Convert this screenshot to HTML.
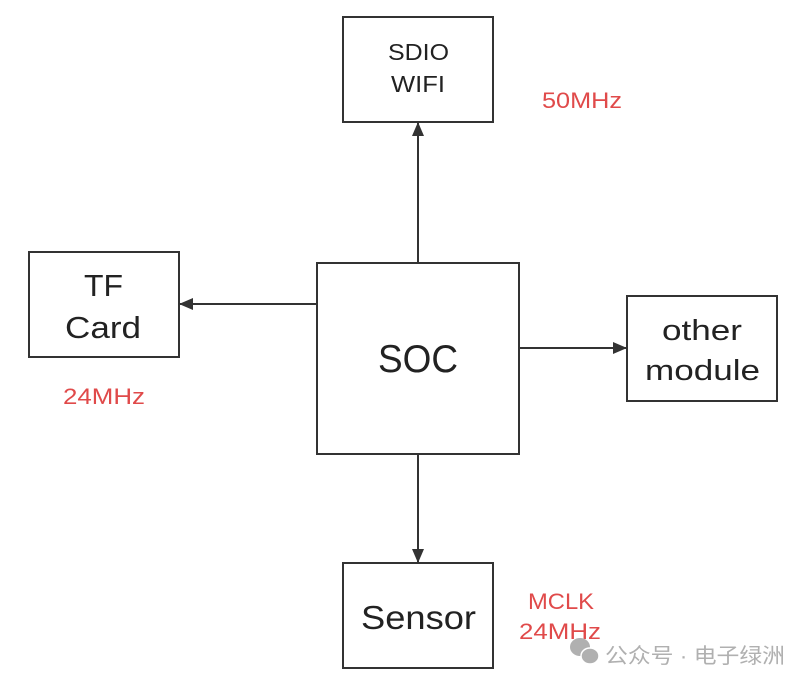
<!DOCTYPE html>
<html><head><meta charset="utf-8"><style>
html,body{margin:0;padding:0;background:#fff;}
svg{display:block;}
text{font-family:"Liberation Sans","Noto Sans CJK SC",sans-serif;}
</style></head><body>
<svg width="811" height="685" viewBox="0 0 811 685" xmlns="http://www.w3.org/2000/svg">
<defs><marker id="a" markerWidth="14" markerHeight="12" refX="13" refY="6" orient="auto" markerUnits="userSpaceOnUse"><path d="M0,0 L14,6 L0,12 z" fill="#333"/></marker></defs>
<g fill="none" stroke="#333" stroke-width="2">
<rect x="343" y="17" width="150" height="105"/>
<rect x="29" y="252" width="150" height="105"/>
<rect x="317" y="263" width="202" height="191"/>
<rect x="627" y="296" width="150" height="105"/>
<rect x="343" y="563" width="150" height="105"/>
<line x1="418" y1="263" x2="418" y2="123" marker-end="url(#a)"/>
<line x1="317" y1="304" x2="180" y2="304" marker-end="url(#a)"/>
<line x1="519" y1="348" x2="626" y2="348" marker-end="url(#a)"/>
<line x1="418" y1="454" x2="418" y2="562" marker-end="url(#a)"/>
</g>
<g fill="#222">
<text x="388" y="60" font-size="23" textLength="61" lengthAdjust="spacingAndGlyphs">SDIO</text>
<text x="391" y="92" font-size="23" textLength="54" lengthAdjust="spacingAndGlyphs">WIFI</text>
<text x="84" y="296" font-size="31" textLength="39" lengthAdjust="spacingAndGlyphs">TF</text>
<text x="65" y="338" font-size="31" textLength="76" lengthAdjust="spacingAndGlyphs">Card</text>
<text x="378" y="372" font-size="39" textLength="80" lengthAdjust="spacingAndGlyphs">SOC</text>
<text x="662" y="340" font-size="29" textLength="80" lengthAdjust="spacingAndGlyphs">other</text>
<text x="645" y="380" font-size="29" textLength="115" lengthAdjust="spacingAndGlyphs">module</text>
<text x="361" y="629" font-size="33" textLength="115" lengthAdjust="spacingAndGlyphs">Sensor</text>
</g>
<g fill="#e04a4a" font-size="22">
<text x="542" y="108" textLength="80" lengthAdjust="spacingAndGlyphs">50MHz</text>
<text x="63" y="404" textLength="82" lengthAdjust="spacingAndGlyphs">24MHz</text>
<text x="528" y="609" textLength="66" lengthAdjust="spacingAndGlyphs">MCLK</text>
<text x="519" y="639" textLength="82" lengthAdjust="spacingAndGlyphs">24MHz</text>
</g>
<g fill="#b0b0b0">
<ellipse cx="580" cy="647" rx="10" ry="9"/>
<ellipse cx="590" cy="656" rx="9" ry="8" stroke="#fff" stroke-width="1.5"/>
<text x="605" y="663" font-size="21" textLength="180" lengthAdjust="spacingAndGlyphs">公众号 · 电子绿洲</text>
</g>
</svg>
</body></html>
